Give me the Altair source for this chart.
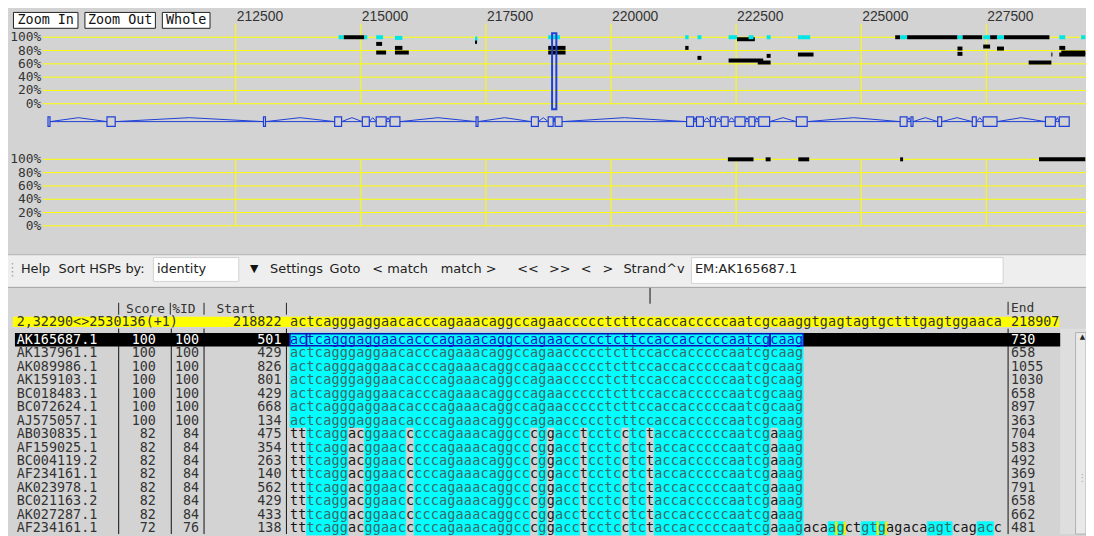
import altair as alt
import numpy as np
import pandas as pd

# ================= data =================
ruler_ticks = [212500, 215000, 217500, 220000, 222500, 225000, 227500]
pct_ticks = [0, 20, 40, 60, 80, 100]

# overview HSPs of the selected sequence (cyan)
sel_start = [214555, 215069, 215306, 215681, 217282, 218744, 221483, 221728, 222350, 222750,
             223111, 223736, 225779, 226925, 227439, 227715, 228960, 229395]
sel_end = [214654, 215128, 215444, 215830, 217330, 218980, 221550, 221807, 222518, 222848,
           223190, 223981, 225917, 227024, 227577, 227854, 229079, 229480]
sel_pct = [100, 100, 100, 99, 98, 100, 100, 100, 100, 100, 100, 100, 100, 100, 100, 100, 100, 100]

# overview HSPs of the other sequences (black)
oth_start = [214654, 215306, 215306, 215681, 215681, 217282, 218744, 218744, 221483, 221728,
             222518, 222350, 222933, 223111, 223736, 225680, 225917, 227024, 227577, 227854,
             226925, 226925, 227439, 227715, 228348, 228802, 228960, 228960, 229000]
oth_end = [215069, 215424, 215504, 215830, 215958, 217322, 219091, 219091, 221550, 221807,
           222874, 223042, 223190, 223190, 224048, 225779, 226925, 227419, 227715, 228763,
           227024, 227024, 227577, 227854, 228802, 228822, 229079, 229480, 229480]
oth_pct = [100, 90, 77, 84, 77, 93, 84, 77, 84, 69,
           97, 65, 62, 72, 74, 100, 100, 100, 100, 100,
           83, 75, 86, 83, 62, 74, 84, 74, 77]

# lower (reverse strand) panel HSPs
low_start = [222336, 223091, 223743, 225779, 228555]
low_end = [222848, 223190, 223961, 225838, 229480]
low_pct = [100, 100, 100, 100, 100]

# gene model exons
exon_start = [208746, 209925, 213053, 214476, 215029, 215306, 215583, 217302, 218408, 218744,
              218882, 221511, 221708, 221985, 222202, 222479, 222756, 222953, 223704, 225779,
              225996, 226530, 227221, 227439, 228683, 228960]
exon_end = [208786, 210089, 213093, 214614, 215168, 215504, 215780, 217341, 218547, 218843,
            219021, 221649, 221846, 222084, 222340, 222677, 222874, 223170, 223921, 225917,
            226036, 226609, 227300, 227715, 228881, 229158]

# reference row
ref_label = "2,32290<>2530136(+1)"
ref_start = 218822
ref_end = 218907
ref_seq = ("actcagggaggaacacccagaaacaggccag"
           "aaccccctcttccaccacccccaatcgcaag"
           "gtgagtagtgctttgagtggaaca")
cursor_pos = 218865

# matches
match_names = ["AK165687.1", "AK137961.1", "AK089986.1", "AK159103.1", "BC018483.1",
               "BC072624.1", "AJ575057.1", "AB030835.1", "AF159025.1", "BC004119.2",
               "AF234161.1", "AK023978.1", "BC021163.2", "AK027287.1", "AF234161.1"]
match_scores = [100, 100, 100, 100, 100, 100, 100, 82, 82, 82, 82, 82, 82, 82, 72]
match_ids = [100, 100, 100, 100, 100, 100, 100, 84, 84, 84, 84, 84, 84, 84, 76]
match_starts = [501, 429, 826, 801, 429, 668, 134, 475, 354, 263, 140, 562, 429, 433, 138]
match_ends = [730, 658, 1055, 1030, 658, 897, 363, 704, 583, 492, 369, 791, 658, 662, 481]
seq_full = "actcagggaggaacacccagaaacaggccagaaccccctcttccaccacccccaatcgcaag"
seq_82 = "tttcaggacggaacccccagaaacaggcccggacctcctcctctaccacccccaatcgaaag"
seq_72 = seq_82 + "acaagctgtgagacaagtcagacc"
match_seqs = [seq_full] * 7 + [seq_82] * 7 + [seq_72]
selected_row = 1
selected_boxes_start = [1, 3, 59]
selected_boxes_end = [2, 58, 62]
insert_row = 15
insert_cols = [67, 68, 72, 73]

# ================= layout helpers =================
OX = OY = 8
W, H = 1086, 528
ONE = pd.DataFrame({"k": [0]})
MONO = "DejaVu Sans Mono"
SANS = "DejaVu Sans"
BLUE = "#1f3fd6"
YEL = "#ffff00"


def X(v):
    return alt.value(v - OX)


def Y(v):
    return alt.value(v - OY)


def box(x0, x1, y0, y1, fill=None, stroke=None, sw=1.0):
    kw = {}
    if fill:
        kw["fill"] = fill
    else:
        kw["fillOpacity"] = 0
    if stroke:
        kw.update(stroke=stroke, strokeWidth=sw)
    else:
        kw["strokeWidth"] = 0
    return alt.Chart(ONE).mark_rect(**kw).encode(x=X(x0), x2=X(x1), y=Y(y0), y2=Y(y1))


def hline(x0, x1, y, color, sw=1.0):
    return alt.Chart(ONE).mark_rule(color=color, strokeWidth=sw).encode(x=X(x0), x2=X(x1), y=Y(y))


def vline(x, y0, y1, color, sw=1.0, dash=None):
    kw = {"strokeDash": dash} if dash else {}
    return alt.Chart(ONE).mark_rule(color=color, strokeWidth=sw, **kw).encode(x=X(x), y=Y(y0), y2=Y(y1))


def label(txt, x, y, size=13.0, font=SANS, color="#222222", align="left", **kw):
    return alt.Chart(ONE).mark_text(text=txt, font=font, fontSize=size, color=color,
                                    align=align, baseline="middle", **kw).encode(x=X(x), y=Y(y))


# scales (ranges in chart pixels)
gx = alt.Scale(domain=[212500, 227500], range=[229.5, 985.5], nice=False, zero=False)
ytop = alt.Scale(domain=[0, 100], range=[102.5 - OY, 35.5 - OY], nice=False, zero=False)
ylow = alt.Scale(domain=[0, 100], range=[225.5 - OY, 158.5 - OY], nice=False, zero=False)
ygene = alt.Scale(domain=[0, 1], range=[126 - OY, 115 - OY], nice=False, zero=False)
colx = alt.Scale(domain=[0.5, 86.5], range=[292 - OX, 292 + 86 * 8.34 - OX], nice=False, zero=False)
rowy = alt.Scale(domain=[0.5, 15.5], range=[333.5 - OY, 333.5 + 15 * 13.57 - OY], nice=False, zero=False)

# ================= data frames =================
ticks_df = pd.DataFrame({"g": ruler_ticks, "lbl": [str(t) for t in ruler_ticks]})
ticks_df["zero"] = 0
ticks_df["hundred"] = 100
pct_df = pd.DataFrame({"p": pct_ticks, "lbl": [f"{p}%" for p in pct_ticks]})
sel_df = pd.DataFrame({"s": sel_start, "e": sel_end, "p": sel_pct})
oth_df = pd.DataFrame({"s": oth_start, "e": oth_end, "p": oth_pct})
low_df = pd.DataFrame({"s": low_start, "e": low_end, "p": low_pct})
ex_df = pd.DataFrame({"s": exon_start, "e": exon_end})
ex_df["y0"] = 0.06
ex_df["y1"] = 0.94
intr = []
for i in range(len(exon_start) - 1):
    a, b = exon_end[i], exon_start[i + 1]
    intr += [dict(i=i, o=0, g=a, v=0.5), dict(i=i, o=1, g=(a + b) / 2, v=0.86), dict(i=i, o=2, g=b, v=0.5)]
intr_df = pd.DataFrame(intr)
base_df = pd.DataFrame({"s": [exon_start[0]], "e": [exon_end[-1]], "v": [0.5]})
view_df = pd.DataFrame({"s": [ref_start], "e": [ref_end]})

recs = []
for i, seq in enumerate(match_seqs):
    r = i + 1
    for c, ch in enumerate(seq, start=1):
        recs.append(dict(row=r, col=c, ch=ch, match=(ch == ref_seq[c - 1])))
cells = pd.DataFrame(recs)
cells["x0"] = cells["col"] - 0.5
cells["x1"] = cells["col"] + 0.5
cells["y0"] = cells["row"] - 0.5
cells["y1"] = cells["row"] + 0.5
cells["tc"] = np.where(cells["row"] == selected_row, "#1414c8",
                       np.where(cells["match"], "#3b6868", "#141414"))
cyan_df = cells[cells["match"]]

ref_df = pd.DataFrame({"col": list(range(1, len(ref_seq) + 1)), "ch": list(ref_seq)})

rows_df = pd.DataFrame({"row": list(range(1, len(match_names) + 1)), "name": match_names,
                        "score": match_scores, "pid": match_ids, "start": match_starts,
                        "end": match_ends})
rows_df["tc"] = np.where(rows_df["row"] == selected_row, "#ffffff", "#333333")

selb_df = pd.DataFrame({"x0": [s - 0.5 for s in selected_boxes_start],
                        "x1": [e + 0.5 for e in selected_boxes_end]})
selb_df["y0"] = selected_row - 0.45
selb_df["y1"] = selected_row + 0.45
selrow_df = pd.DataFrame({"y0": [selected_row - 0.5], "y1": [selected_row + 0.5]})
ins_df = pd.DataFrame({"x": [c - 0.5 for c in insert_cols]})
ins_df["y0"] = insert_row - 0.5
ins_df["y1"] = insert_row + 0.5
cur_df = pd.DataFrame({"col": [cursor_pos - ref_start + 1]})

# ================= layers =================
L = []

# ---- panel backgrounds ----
L += [
    box(0, 1094, 255, 288, "#eeeeee"),
    hline(0, 1094, 254.5, "#b8b8b8"),
    box(0, 1094, 288, 536, "#d6d6d6"),
    hline(0, 1094, 287.5, "#a0a0a0"),
    box(0, 1094, 328, 536, "#d3d3d3"),
    box(1068, 1094, 329, 536, "#dedede"),
]

# ---- top overview panel ----
L += [
    alt.Chart(ticks_df).mark_rule(color=YEL, strokeWidth=1).encode(
        x=alt.X("g:Q", scale=gx, axis=None),
        y=alt.Y("zero:Q", scale=ytop, axis=None), y2=Y(22)),
    alt.Chart(pct_df).mark_rule(color=YEL, strokeWidth=1).encode(
        y=alt.Y("p:Q", scale=ytop, axis=None), x=X(43), x2=X(1094)),
    alt.Chart(pct_df).mark_text(font=MONO, fontSize=13, align="right", baseline="middle",
                                color="#333333").encode(
        y=alt.Y("p:Q", scale=ytop, axis=None), x=X(41.5), text="lbl:N"),
    alt.Chart(ticks_df).mark_text(font="Liberation Sans", fontSize=14, align="left",
                                  baseline="middle", color="#333333", dx=1).encode(
        x=alt.X("g:Q", scale=gx, axis=None), y=Y(15.5), text="lbl:N"),
    box(13.5, 78.5, 10.5, 26.5, "#ffffff", "#222222"),
    box(85.5, 156.5, 10.5, 26.5, "#ffffff", "#222222"),
    box(163.5, 211.5, 10.5, 26.5, "#ffffff", "#222222"),
    label("Zoom In", 46, 18.5, 13.5, MONO, "#111111", "center"),
    label("Zoom Out", 121, 18.5, 13.5, MONO, "#111111", "center"),
    label("Whole", 187.5, 18.5, 13.5, MONO, "#111111", "center"),
    alt.Chart(oth_df).mark_rule(color="#000000", strokeWidth=4).encode(
        x=alt.X("s:Q", scale=gx, axis=None), x2="e:Q",
        y=alt.Y("p:Q", scale=ytop, axis=None)),
    alt.Chart(sel_df).mark_rule(color="#00e5e5", strokeWidth=4).encode(
        x=alt.X("s:Q", scale=gx, axis=None), x2="e:Q",
        y=alt.Y("p:Q", scale=ytop, axis=None)),
    alt.Chart(view_df).mark_rect(fillOpacity=0, stroke=BLUE, strokeWidth=2).encode(
        x=alt.X("s:Q", scale=gx, axis=None), x2="e:Q", y=Y(31.5), y2=Y(108)),
]

# ---- gene model ----
L += [
    alt.Chart(base_df).mark_rule(color=BLUE, strokeWidth=1).encode(
        x=alt.X("s:Q", scale=gx, axis=None), x2="e:Q",
        y=alt.Y("v:Q", scale=ygene, axis=None)),
    alt.Chart(intr_df).mark_line(color=BLUE, strokeWidth=1).encode(
        x=alt.X("g:Q", scale=gx, axis=None), y=alt.Y("v:Q", scale=ygene, axis=None),
        detail="i:N", order="o:Q"),
    alt.Chart(ex_df).mark_rect(fill="#d3d3d3", stroke=BLUE, strokeWidth=1.2).encode(
        x=alt.X("s:Q", scale=gx, axis=None), x2="e:Q",
        y=alt.Y("y0:Q", scale=ygene, axis=None), y2="y1:Q"),
]

# ---- lower panel ----
L += [
    alt.Chart(ticks_df).mark_rule(color=YEL, strokeWidth=1).encode(
        x=alt.X("g:Q", scale=gx, axis=None),
        y=alt.Y("zero:Q", scale=ylow, axis=None), y2="hundred:Q"),
    alt.Chart(pct_df).mark_rule(color=YEL, strokeWidth=1).encode(
        y=alt.Y("p:Q", scale=ylow, axis=None), x=X(43), x2=X(1094)),
    alt.Chart(pct_df).mark_text(font=MONO, fontSize=13, align="right", baseline="middle",
                                color="#333333").encode(
        y=alt.Y("p:Q", scale=ylow, axis=None), x=X(41.5), text="lbl:N"),
    alt.Chart(low_df).mark_rule(color="#000000", strokeWidth=4).encode(
        x=alt.X("s:Q", scale=gx, axis=None), x2="e:Q",
        y=alt.Y("p:Q", scale=ylow, axis=None)),
]

# ---- toolbar ----
TY = 269.5
L += [
    vline(12.5, 263, 277, "#a8a8a8", 1.5, [1.5, 2.5]),
    label("Help", 21, TY),
    label("Sort HSPs by:", 59, TY),
    box(154.5, 240.5, 257.5, 281.5, "#ffffff", "#d2d2d2"),
    label("identity", 158, TY),
    label("\u25bc", 256, TY, 11, SANS, "#111111", "center"),
    label("Settings", 272, TY),
    label("Goto", 332, TY),
    label("< match", 375, TY),
    label("match >", 444, TY),
    label("<<", 521, TY),
    label(">>", 553, TY),
    label("<", 585, TY),
    label(">", 607, TY),
    label("Strand^v", 628, TY),
    box(696.5, 1010.5, 257.5, 283.5, "#ffffff", "#d2d2d2"),
    label("EM:AK165687.1", 700, TY),
]

# ---- alignment header ----
HY = 309
RY = 322.5
L += [
    label("Score", 127, HY, 13, MONO, "#333333"),
    label("%ID", 173.5, HY, 13, MONO, "#333333"),
    label("Start", 218, HY, 13, MONO, "#333333"),
    label("End", 1018.5, HY - 1, 13, MONO, "#333333"),
    vline(119.5, 303, 315, "#222222"),
    vline(171.5, 303, 315, "#222222"),
    vline(205.5, 303, 315, "#222222"),
    vline(288.5, 303, 315, "#222222"),
    vline(1015.5, 302, 315, "#222222"),
    alt.Chart(cur_df).mark_rule(color="#111111", strokeWidth=1).encode(
        x=alt.X("col:Q", scale=colx, axis=None), y=Y(288), y2=Y(304)),
    box(13, 1067, 317, 327.5, "#ffff00"),
    label(ref_label, 16.7, RY, 13.5, MONO, "#333333"),
    label(str(ref_start), 283.5, RY, 13.5, MONO, "#333333", "right"),
    label(str(ref_end), 1018.5, RY, 13.5, MONO, "#333333"),
    alt.Chart(ref_df).mark_text(font=MONO, fontSize=13.5, baseline="middle", align="center",
                                color="#333333").encode(
        x=alt.X("col:Q", scale=colx, axis=None), y=Y(RY), text="ch:N"),
]

# ---- alignment rows ----
L += [
    vline(119.5, 329, 536, "#111111"),
    vline(172.5, 329, 536, "#111111"),
    vline(205.5, 329, 536, "#111111"),
    vline(288.5, 329, 536, "#111111"),
    vline(1015.5, 329, 536, "#111111"),
    alt.Chart(selrow_df).mark_rect(color="#000000").encode(
        x=X(15), x2=X(1068),
        y=alt.Y("y0:Q", scale=rowy, axis=None), y2="y1:Q"),
    alt.Chart(cyan_df).mark_rect(color="#00ffff", stroke="#00ffff", strokeWidth=0.6).encode(
        x=alt.X("x0:Q", scale=colx, axis=None), x2="x1:Q",
        y=alt.Y("y0:Q", scale=rowy, axis=None), y2="y1:Q"),
    alt.Chart(ins_df).mark_rule(color="#f0f000", strokeWidth=2.5).encode(
        x=alt.X("x:Q", scale=colx, axis=None),
        y=alt.Y("y0:Q", scale=rowy, axis=None), y2="y1:Q"),
    alt.Chart(selb_df).mark_rect(fillOpacity=0, stroke="#1010b8", strokeWidth=1.5).encode(
        x=alt.X("x0:Q", scale=colx, axis=None), x2="x1:Q",
        y=alt.Y("y0:Q", scale=rowy, axis=None), y2="y1:Q"),
    alt.Chart(cells).mark_text(font=MONO, fontSize=13.5, baseline="middle", align="center").encode(
        x=alt.X("col:Q", scale=colx, axis=None), y=alt.Y("row:Q", scale=rowy, axis=None),
        text="ch:N", color=alt.Color("tc:N", scale=None)),
]


def coltext(field, x, align):
    return alt.Chart(rows_df).mark_text(font=MONO, fontSize=13.5, align=align,
                                        baseline="middle").encode(
        x=X(x), y=alt.Y("row:Q", scale=rowy, axis=None), text=f"{field}:N",
        color=alt.Color("tc:N", scale=None))


L += [
    coltext("name", 16.7, "left"),
    coltext("score", 157, "right"),
    coltext("pid", 200.5, "right"),
    coltext("start", 283.5, "right"),
    coltext("end", 1018.5, "left"),
]

# ---- scrollbar ----
L += [
    box(1083.5, 1094, 333, 536, "#e9e9e9", "#b0b0b0"),
    label("\u25b2", 1090.5, 338, 7, SANS, "#222222", "center"),
    label("\u22ee", 1090.5, 480, 10, SANS, "#b0b0b0", "center"),
]

chart = alt.layer(*L).properties(
    width=W, height=H, padding=0, background="#d3d3d3",
    autosize=alt.AutoSizeParams(type="none", contains="padding"),
).resolve_scale(x="independent", y="independent").configure_view(strokeWidth=0)

chart.save("out.html", embed_options={"renderer": "svg", "actions": False})
